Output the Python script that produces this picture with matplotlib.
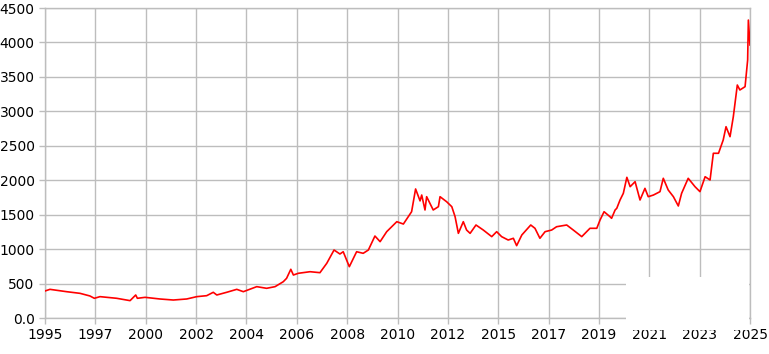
import matplotlib
matplotlib.use('Agg')
import matplotlib.pyplot as plt
from matplotlib.patches import Rectangle

# preco do ouro (USD/oz)
anos = [1995.00, 1995.21, 1995.92, 1996.49, 1996.91, 1997.10, 1997.34, 1998.05, 1998.62, 1998.86,
        1998.93, 1999.26, 1999.89, 2000.46, 2001.03, 2001.46, 2001.88, 2002.16, 2002.31, 2002.73,
        2003.16, 2003.44, 2004.01, 2004.43, 2004.79, 2005.14, 2005.28, 2005.46, 2005.57, 2005.78,
        2006.28, 2006.70, 2006.99, 2007.30, 2007.55, 2007.69, 2007.95, 2008.26, 2008.54, 2008.76,
        2009.04, 2009.26, 2009.54, 2009.97, 2010.25, 2010.60, 2010.77, 2010.96, 2011.03, 2011.17,
        2011.24, 2011.52, 2011.74, 2011.81, 2012.09, 2012.31, 2012.45, 2012.59, 2012.80, 2012.94,
        2013.09, 2013.34, 2013.65, 2014.01, 2014.22, 2014.43, 2014.71, 2014.93, 2015.07, 2015.29,
        2015.67, 2015.85, 2016.06, 2016.28, 2016.56, 2016.77, 2017.20, 2017.48, 2017.84, 2018.19,
        2018.48, 2018.62, 2018.79, 2019.04, 2019.11, 2019.26, 2019.33, 2019.47, 2019.61, 2019.76,
        2019.90, 2020.11, 2020.32, 2020.53, 2020.67, 2020.89, 2021.17, 2021.31, 2021.52, 2021.74,
        2021.95, 2022.09, 2022.37, 2022.66, 2022.87, 2023.09, 2023.30, 2023.44, 2023.66, 2023.86,
        2023.98, 2024.15, 2024.29, 2024.46, 2024.57, 2024.79, 2024.90, 2024.93, 2025.00]
preco = [392, 416, 382, 358, 320, 286, 310, 286, 252, 334,
         286, 300, 276, 261, 276, 310, 324, 373, 334, 373,
         416, 382, 455, 431, 455, 527, 576, 707, 624, 649,
         672, 658, 794, 987, 929, 962, 745, 962, 939, 987,
         1190, 1108, 1253, 1398, 1364, 1543, 1873, 1700, 1785, 1568,
         1761, 1568, 1616, 1761, 1688, 1616, 1471, 1229, 1398, 1277,
         1229, 1350, 1277, 1181, 1253, 1181, 1132, 1157, 1050, 1205,
         1350, 1302, 1157, 1253, 1277, 1325, 1350, 1277, 1181, 1302,
         1302, 1423, 1543, 1471, 1447, 1568, 1592, 1713, 1810, 2042,
         1906, 1979, 1713, 1882, 1761, 1785, 1834, 2028, 1858, 1761,
         1626, 1810, 2028, 1906, 1834, 2051, 2003, 2391, 2391, 2584,
         2777, 2632, 2922, 3382, 3310, 3358, 3745, 4325, 3963]

# rotulos do eixo x (espacados igualmente)
rotulos_x = ['1995', '1997', '2000', '2002', '2004', '2006', '2008', '2010',
             '2012', '2015', '2017', '2019', '2021', '2023', '2025']
ticks_y = [0, 500, 1000, 1500, 2000, 2500, 3000, 3500, 4000, 4500]
rotulos_y = ['0.0', '500', '1000', '1500', '2000', '2500', '3000', '3500', '4000', '4500']

cinza = '#bdbdbd'

fig = plt.figure(figsize=(7.69, 3.54), dpi=100)
ax = fig.add_axes([45/769, 36/354, 705/769, 310/354])

ax.plot(anos, preco, color='red', linewidth=1.2, zorder=3)

n = len(rotulos_x)
pos_x = [1995 + i * 30 / (n - 1) for i in range(n)]
ax.set_xticks(pos_x)
ax.set_xticklabels(rotulos_x)
ax.set_yticks(ticks_y)
ax.set_yticklabels(rotulos_y)
ax.set_xlim(1995, 2025)
ax.set_ylim(0, 4500)

ax.grid(True, color=cinza, linewidth=1.0)
ax.tick_params(colors=cinza, labelcolor='black', labelsize=10, length=4, width=1.0)
for s in ax.spines.values():
    s.set_color(cinza)
    s.set_linewidth(1.0)

# mancha branca no canto inferior direito
fig.patches.append(Rectangle((626/769, 24/354), 123/769, 53/354, transform=fig.transFigure,
                             facecolor='white', edgecolor='none', zorder=10))

fig.savefig('out.png', dpi=100)
